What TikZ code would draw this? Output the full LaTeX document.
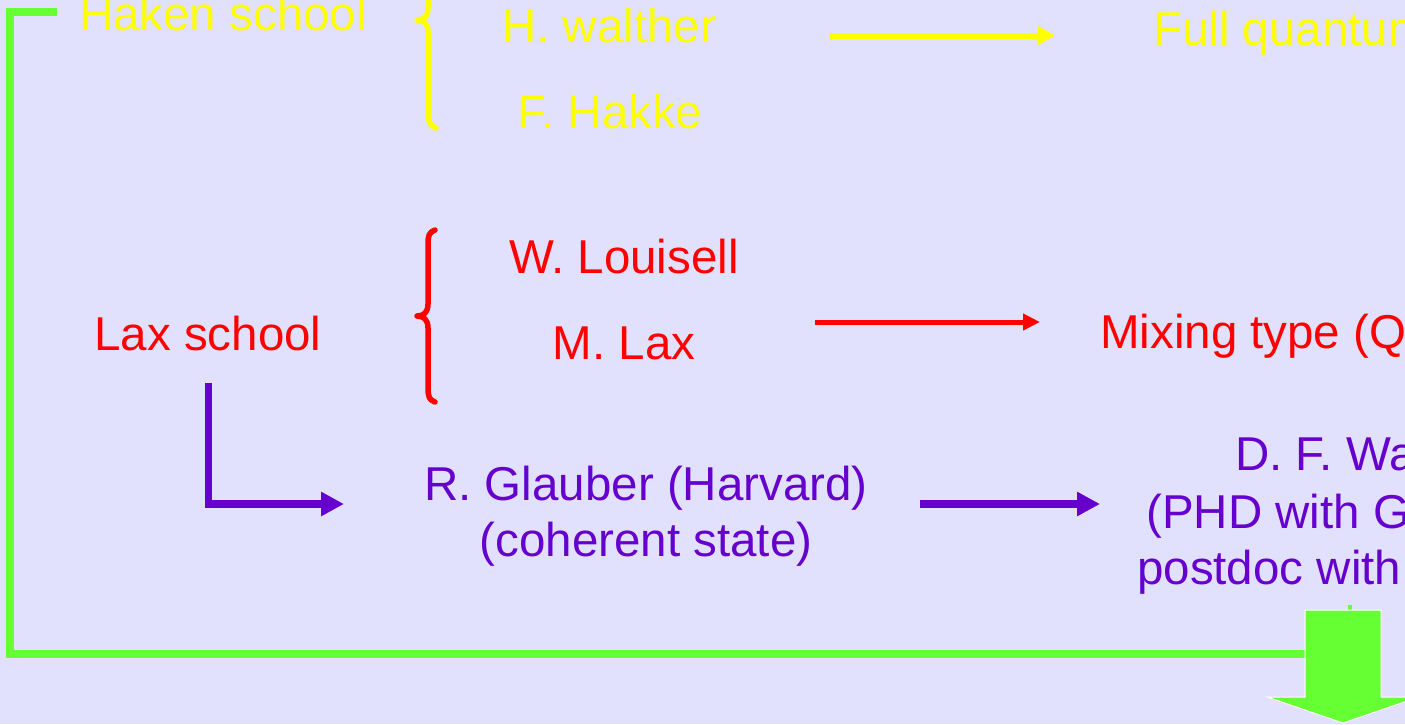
\documentclass[tikz,border=0pt]{standalone}
\usepackage{fontspec}
\setmainfont{Liberation Sans}
\usetikzlibrary{arrows.meta}
\definecolor{bgc}{HTML}{E1E1FD}
\definecolor{yel}{HTML}{FFFF00}
\definecolor{rd}{HTML}{FF0000}
\definecolor{pur}{HTML}{6600CC}
\definecolor{grn}{HTML}{66FF33}
\tikzset{
  lbl/.style={inner sep=0pt, font=\fontsize{47.5}{56}\selectfont},
  ytxt/.style={lbl, text=yel},
  rtxt/.style={lbl, text=rd},
  ptxt/.style={lbl, text=pur},
  brace/.style={line width=5.5pt, line cap=round, line join=round},
}
\begin{document}
\begin{tikzpicture}[x=1pt,y=-1pt]
\fill[bgc] (0,0) rectangle (1405,724);
\useasboundingbox (0,0) rectangle (1405,724);
\clip (0,0) rectangle (1405,724);

% green frame line
\coordinate (g1) at (57,12);
\coordinate (g2) at (9.5,12);
\coordinate (g3) at (9.5,654);
\coordinate (g4) at (1306,654);
\draw[grn, line width=8pt] (g1) -- (g2) -- (g3) -- (g4);
\draw[grn, line width=4pt] (1350,605) -- (1350,611);
% big green block arrow
\filldraw[fill=grn, draw=white, line width=1pt]
  (1305,610) -- (1381,610) -- (1381,697) -- (1419,697) -- (1343,723)
  -- (1267,697) -- (1305,697) -- cycle;

% Haken school row
\node[ytxt, anchor=base] (haken) at (223,30) {Haken school};
\draw[yel, brace] (436,-88) .. controls (429,-86) and (428,-80) .. (428,-70)
  -- (428,8) .. controls (428,16) and (424,20) .. (417,20)
  .. controls (424,20) and (428,24) .. (428,32)
  -- (428,110) .. controls (428,120) and (429,126) .. (436,128);
\node[ytxt, anchor=base] (walther) at (609,42) {H. walther};
\node[ytxt, anchor=base] (hakke) at (610,128) {F. Hakke};
\coordinate (ya1) at (830,35.5);
\coordinate (ya2) at (1055,35.5);
\draw[yel, line width=6pt, -{Triangle[length=17pt 0 0,width=18pt 0 0]}] (ya1) -- (ya2);
\node[ytxt, anchor=base west] (full) at (1153,45) {Full quantum};

% Lax school row
\node[rtxt, anchor=base] (lax) at (208,350) {Lax school};
\draw[rd, brace] (435,230) .. controls (429,232) and (428,236) .. (428,244)
  -- (428,304) .. controls (428,312) and (424,316) .. (417,316)
  .. controls (424,316) and (428,320) .. (428,328)
  -- (428,388) .. controls (428,396) and (429,400) .. (435,402);
\node[rtxt, anchor=base] (louisell) at (624,273) {W. Louisell};
\node[rtxt, anchor=base] (mlax) at (624,359) {M. Lax};
\coordinate (ra1) at (815,322);
\coordinate (ra2) at (1040,322);
\draw[rd, line width=5pt, -{Triangle[length=17pt 0 0,width=16pt 0 0]}] (ra1) -- (ra2);
\node[rtxt, anchor=base west] (mixing) at (1100,348) {Mixing type (Q};

% Glauber row
\coordinate (pl1) at (208.7,383);
\coordinate (pl2) at (208.7,504);
\coordinate (pl3) at (344,504);
\draw[pur, line width=7.5pt, -{Triangle[length=23pt 0 0,width=23pt 0 0]}] (pl1) -- (pl2) -- (pl3);
\node[ptxt, anchor=base] (glauber) at (646,500) {R. Glauber (Harvard)};
\node[ptxt, anchor=base] (glauber2) at (646,556) {(coherent state)};
\coordinate (pa1) at (920,504);
\coordinate (pa2) at (1100,504);
\draw[pur, line width=8pt, -{Triangle[length=23pt 0 0,width=23pt 0 0]}] (pa1) -- (pa2);
\node[ptxt, anchor=base west] (walls1) at (1235,470) {D. F. Wa};
\node[ptxt, anchor=base west] (walls2) at (1146,528) {(PHD with G};
\node[ptxt, anchor=base west] (walls3) at (1137,584) {postdoc with};
\end{tikzpicture}
\end{document}
